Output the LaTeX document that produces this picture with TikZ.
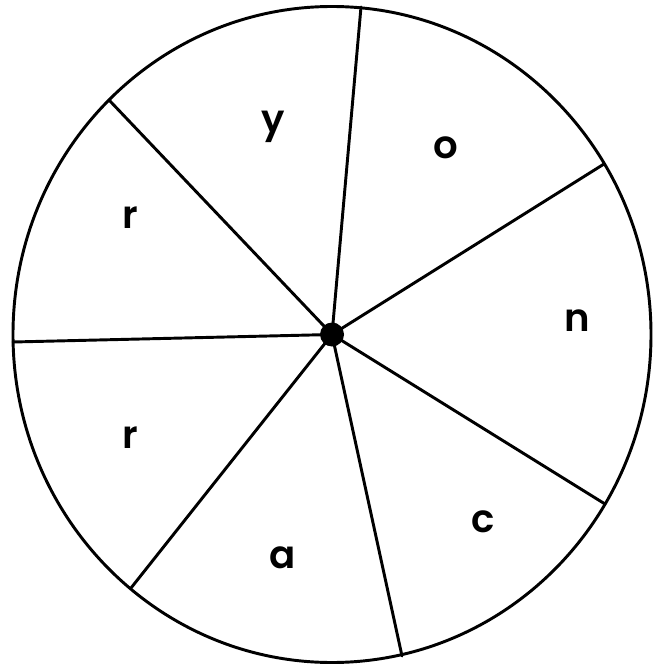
\documentclass[tikz,border=0pt]{standalone}
\usepackage{fontspec}
\setmainfont{Poppins}[UprightFont=* SemiBold]
\begin{document}
\begin{tikzpicture}[x=0.75pt,y=-0.75pt,
  spoke/.style={line width=2.2pt,line cap=round},
  letter/.style={anchor=base,inner sep=0pt,font=\fontsize{29}{29}\selectfont}]
\useasboundingbox (0,0) rectangle (662,666);
\coordinate (c) at (332,334.5);
\draw[line width=2.2pt] (c) ellipse [x radius=319, y radius=328];
\coordinate (p1) at (361,7);
\coordinate (p2) at (604,164);
\coordinate (p3) at (605,504);
\coordinate (p4) at (402,656);
\coordinate (p5) at (131,588);
\coordinate (p6) at (13,342);
\coordinate (p7) at (109,100);
\foreach \p in {p1,p2,p3,p4,p5,p6,p7} \draw[spoke] (c) -- (\p);
\fill (c) circle [radius=12];
\node[letter] (ly) at (273,133) {y};
\node[letter] (lo) at (446,159) {o};
\node[letter] (ln) at (577,331) {n};
\node[letter] (lc) at (483,532) {c};
\node[letter] (la) at (283,568) {a};
\node[letter] (lr1) at (130,448) {r};
\node[letter] (lr2) at (130,229) {r};
\end{tikzpicture}
\end{document}
